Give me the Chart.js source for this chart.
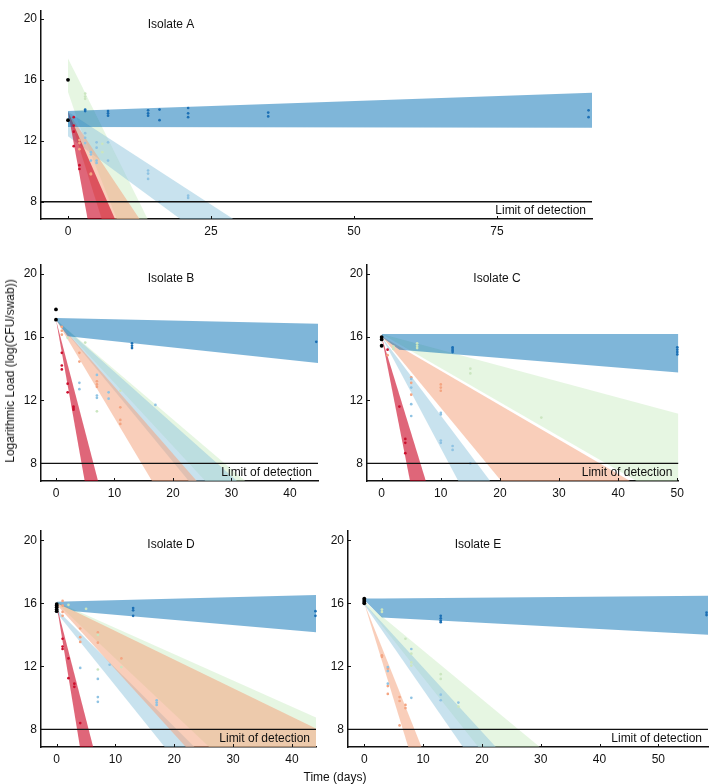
<!DOCTYPE html>
<html>
<head>
<meta charset="utf-8">
<script src="https://cdn.jsdelivr.net/npm/chart.js@4/dist/chart.umd.min.js"></script>
<style>
  html, body { margin: 0; padding: 0; background: #fff; width: 709px; height: 784px; overflow: hidden; }
  .panel { position: absolute; }
  .lbl { position: absolute; font: 12px "Liberation Sans", Arial, Helvetica, sans-serif; color: #111; white-space: nowrap; }
</style>
</head>
<body>
<div id="wrap"></div>
<div class="lbl" style="left:335px; top:777px; transform:translate(-50%,-50%)">Time (days)</div>
<div class="lbl" style="left:10px; top:371px; transform:translate(-50%,-50%) rotate(-90deg)">Logarithmic Load (log(CFU/swab))</div>
<script>
const FONT = '"Liberation Sans", Arial, Helvetica, sans-serif';

// --------- shared axis values ----------
const yTicks = [8, 12, 16, 20];
const lod = 8;
const lodLabel = "Limit of detection";
const panelTitles = ["Isolate A", "Isolate B", "Isolate C", "Isolate D", "Isolate E"];

const A_xTicks = [0, 25, 50, 75];
const B_xTicks = [0, 10, 20, 30, 40];
const C_xTicks = [0, 10, 20, 30, 40, 50];
const D_xTicks = [0, 10, 20, 30, 40];
const E_xTicks = [0, 10, 20, 30, 40, 50];

// --------- observations [day, log load] ----------
const A_black = [[0, 16.0], [0, 13.35]];
const A_dark = [[3, 14.05], [3, 13.95], [7, 13.95], [7, 13.8], [7, 13.65], [14, 14.0], [14, 13.8], [14, 13.65], [16, 14.05], [16, 13.35], [21, 14.15], [21, 13.8], [21, 13.55], [35, 13.85], [35, 13.6], [91, 14.0], [91, 13.55]];
const A_light = [[3, 12.5], [3, 12.2], [3, 11.85], [4, 11.25], [4, 11.1], [4, 10.7], [5, 11.9], [5, 11.55], [5, 10.7], [5, 10.55], [7, 11.9], [7, 10.7], [14, 10.05], [14, 9.85], [14, 9.5], [16, 8.0], [21, 8.4], [21, 8.25]];
const A_green = [[3, 15.1], [3, 14.9], [3, 14.75], [6, 11.8], [6, 11.25]];
const A_orange = [[2, 12.05], [2, 11.85], [2, 11.45], [4, 9.85], [4, 9.8]];
const A_red = [[1, 13.55], [1, 13.0], [1, 12.6], [1, 11.65], [2, 10.4], [2, 10.15]];

const B_black = [[0, 17.75], [0, 17.1]];
const B_dark = [[13, 15.6], [13, 15.45], [13, 15.3], [44.5, 15.7]];
const B_light = [[4, 13.1], [4, 12.7], [7, 13.6], [7, 12.3], [7, 12.15], [9, 12.5], [9, 12.1], [17, 11.7]];
const B_green = [[2, 15.95], [5, 15.65], [7, 11.3], [11, 12.6]];
const B_orange = [[1, 16.65], [1, 16.4], [1, 16.15], [4, 15.0], [4, 14.45], [7, 13.2], [7, 13.0], [7, 12.85], [11, 11.55], [11, 10.75], [11, 10.5]];
const B_red = [[1, 15.0], [1, 14.2], [1, 13.95], [2, 13.05], [2, 12.5], [3, 11.6], [3, 11.5], [3, 11.4]];

const C_black = [[0, 16.0], [0, 15.85], [0, 15.45]];
const C_dark = [[12, 15.35], [12, 15.25], [12, 15.15], [12, 15.05], [50, 15.35], [50, 15.2], [50, 15.05], [50, 14.9]];
const C_light = [[5, 13.35], [5, 12.8], [5, 11.75], [5, 11.0], [10, 11.2], [10, 11.1], [10, 9.45], [10, 9.3], [12, 9.1], [12, 8.85], [15, 8.0]];
const C_green = [[2, 15.4], [2, 15.25], [6, 15.6], [6, 15.45], [6, 15.3], [15, 14.0], [15, 13.7], [27, 10.9]];
const C_orange = [[1, 14.85], [5, 13.45], [5, 13.1], [5, 12.35], [10, 13.0], [10, 12.8], [10, 12.6]];
const C_red = [[1, 15.2], [3, 11.6], [4, 9.55], [4, 9.3], [4, 8.65]];

const D_black = [[0, 15.95], [0, 15.85], [0, 15.75], [0, 15.6], [0, 15.5]];
const D_dark = [[13, 15.7], [13, 15.55], [13, 15.2], [44, 15.5], [44, 15.2]];
const D_light = [[4, 11.9], [7, 11.2], [7, 10.05], [7, 9.75], [9, 12.1], [17, 9.85], [17, 9.7], [17, 9.55]];
const D_green = [[2, 15.9], [5, 15.65], [7, 14.0], [7, 11.8], [11, 11.95]];
const D_orange = [[1, 16.15], [1, 15.85], [1, 15.45], [1, 15.2], [4, 14.4], [4, 13.85], [4, 13.55], [7, 14.15], [7, 13.5], [11, 12.5]];
const D_red = [[1, 13.75], [1, 13.25], [1, 13.1], [2, 12.5], [2, 11.25], [3, 10.9], [3, 10.7], [4, 8.4]];

const E_black = [[0, 16.3], [0, 16.2], [0, 16.1], [0, 16.0]];
const E_dark = [[13, 15.2], [13, 15.05], [13, 14.9], [13, 14.8], [58.2, 15.4], [58.2, 15.25]];
const E_light = [[4, 11.95], [4, 11.7], [4, 10.9], [8, 13.1], [8, 10.0], [13, 10.2], [13, 9.85], [16, 9.7]];
const E_green = [[3, 15.6], [3, 15.45], [7, 13.75], [8, 12.8], [8, 12.25], [8, 12.05], [13, 11.5], [13, 11.2], [16, 9.45]];
const E_orange = [[3, 12.7], [3, 12.6], [4, 11.85], [4, 10.75], [4, 10.25], [6, 10.05], [6, 9.8], [6, 8.25], [7, 9.55], [7, 9.35]];

// --------- prediction bands [day, upper, lower] ----------
const A_bandDark = [[0, 13.95, 12.9], [91.6, 15.15, 12.85]];
const A_bandLight = [[0, 13.9, 12.3], [30, 6.6, 4.0]];
const A_bandGreen = [[0, 17.4, 15.2], [2, 15.9, 13.0], [15, 6.05, 0.8]];
const A_bandOrange = [[0, 13.9, 13.9], [15, 5.47, -4.0]];
const A_bandRed = [[0, 13.9, 13.9], [15, 1.05, -16.9]];

const B_bandDark = [[0, 17.2, 17.1], [2, 17.19, 16.05], [44.8, 16.85, 14.35]];
const B_bandGreen = [[0, 17.1, 17.1], [45, 2.9, -0.9]];
const B_bandLight = [[0, 17.1, 17.1], [45, 2.25, -3.15]];
const B_bandOrange = [[0, 17.1, 17.1], [45, -2.0, -10.9]];
const B_bandRed = [[0, 17.1, 17.1], [10, 2.9, -3.7]];

const C_bandDark = [[0, 16.2, 16.0], [3, 16.2, 15.2], [50.2, 16.2, 13.75]];
const C_bandGreen = [[0, 16.2, 16.2], [50.2, 11.15, 5.35]];
const C_bandOrange = [[0, 16.05, 16.05], [50.2, 5.1, -6.7]];
const C_bandLight = [[0, 16.0, 16.0], [30, 1.1, -5.1]];
const C_bandRed = [[0, 16.0, 16.0], [10, 3.8, -3.0]];

const D_bandDark = [[0, 16.1, 16.0], [3, 16.13, 15.5], [44.1, 16.53, 14.16]];
const D_bandGreen = [[0, 16.1, 16.0], [44.1, 8.75, 0.5]];
const D_bandOrange = [[0, 16.05, 15.9], [44.1, 8.06, -2.2]];
const D_bandLight = [[0, 15.6, 15.4], [44.1, -0.8, -5.05]];
const D_bandRed = [[0, 15.85, 15.85], [10, 1.4, -6.8]];

const E_bandDark = [[0, 16.3, 16.2], [3, 16.3, 15.1], [58.45, 16.47, 14.0]];
const E_bandGreen = [[0, 16.1, 16.0], [40, 3.75, -2.8]];
const E_bandLight = [[0, 16.0, 15.9], [40, -0.3, -5.6]];
const E_bandOrange = [[0, 16.0, 16.0], [15, 1.95, -2.3]];

// --------- colours ----------
const pointColour = {
  black: "#000000",
  dark: "#1c70b5",
  light: "#8fc3e3",
  green: "#cbe6c0",
  orange: "#f4a582",
  red: "#cc0f2e",
};
const bandColour = {
  dark: "rgba(0,110,180,0.5)",
  light: "rgba(146,197,222,0.5)",
  green: "rgba(200,235,190,0.45)",
  orange: "rgba(244,165,130,0.55)",
  red: "rgba(202,0,32,0.6)",
};
// lower number is drawn on top
const bandLayer = { dark: 1, red: 2, orange: 3, light: 4, green: 5 };

// --------- panel layout (plot area in page pixels) ----------
const panels = [
  { title: panelTitles[0], left: 41, top: 2, right: 592, bottom: 219, padTop: 2,
    x: [-4.72, 91.6], y: [6.87, 20.5], xTicks: A_xTicks,
    pts: { dark: A_dark, light: A_light, green: A_green, orange: A_orange, red: A_red, black: A_black },
    bands: { dark: A_bandDark, red: A_bandRed, orange: A_bandOrange, light: A_bandLight, green: A_bandGreen } },
  { title: panelTitles[1], left: 41, top: 264, right: 318, bottom: 481, padTop: 10,
    x: [-2.56, 44.8], y: [6.885, 20.55], xTicks: B_xTicks,
    pts: { dark: B_dark, light: B_light, green: B_green, orange: B_orange, red: B_red, black: B_black },
    bands: { dark: B_bandDark, red: B_bandRed, orange: B_bandOrange, light: B_bandLight, green: B_bandGreen } },
  { title: panelTitles[2], left: 367, top: 264, right: 679, bottom: 481, padTop: 10,
    x: [-2.48, 50.2], y: [6.885, 20.55], xTicks: C_xTicks,
    pts: { dark: C_dark, light: C_light, green: C_green, orange: C_orange, red: C_red, black: C_black },
    bands: { dark: C_bandDark, red: C_bandRed, orange: C_bandOrange, light: C_bandLight, green: C_bandGreen } },
  { title: panelTitles[3], left: 41, top: 530, right: 316, bottom: 747, padTop: 10,
    x: [-2.67, 44.1], y: [6.884, 20.57], xTicks: D_xTicks,
    pts: { dark: D_dark, light: D_light, green: D_green, orange: D_orange, red: D_red, black: D_black },
    bands: { dark: D_bandDark, red: D_bandRed, orange: D_bandOrange, light: D_bandLight, green: D_bandGreen } },
  { title: panelTitles[4], left: 348, top: 530, right: 708, bottom: 747, padTop: 10,
    x: [-2.77, 58.45], y: [6.884, 20.57], xTicks: E_xTicks,
    pts: { dark: E_dark, light: E_light, green: E_green, orange: E_orange, black: E_black },
    bands: { dark: E_bandDark, orange: E_bandOrange, light: E_bandLight, green: E_bandGreen } },
];

const Y_AXIS_W = 40;
const X_AXIS_H = 24;
const PAD_RIGHT = 10;

// --------- build datasets ----------
function buildDatasets(p) {
  const ds = [];
  // limit of detection line
  ds.push({
    data: [{ x: p.x[0], y: lod }, { x: p.x[1], y: lod }],
    borderColor: "#111", borderWidth: 1.4, pointRadius: 0, order: 0,
  });
  for (const [key, rows] of Object.entries(p.pts)) {
    ds.push({
      data: rows.map(([x, y]) => ({ x, y })),
      showLine: false,
      pointRadius: key === "black" ? 1.9 : 1.35,
      pointBackgroundColor: pointColour[key],
      pointBorderWidth: 0,
      clip: false,
      order: 0,
    });
  }
  for (const [key, rows] of Object.entries(p.bands)) {
    ds.push({
      data: rows.map((r) => ({ x: r[0], y: r[2] })),
      borderWidth: 0, borderColor: "transparent", pointRadius: 0, fill: false,
      order: bandLayer[key],
    });
    ds.push({
      data: rows.map((r) => ({ x: r[0], y: r[1] })),
      borderWidth: 0, borderColor: "transparent", pointRadius: 0, fill: "-1",
      backgroundColor: bandColour[key],
      order: bandLayer[key],
    });
  }
  return ds;
}

// titles, limit label and small inward tick marks
function panelText(title) {
  return {
    id: "panelText",
    afterDatasetsDraw(chart) {
      const { ctx, chartArea: a, scales } = chart;
      const x = scales.x, y = scales.y;
      ctx.save();
      ctx.fillStyle = "#111";
      ctx.font = "12px " + FONT;
      ctx.textBaseline = "middle";
      ctx.textAlign = "center";
      ctx.fillText(title, a.left + 130, a.top + 13.5);
      ctx.textAlign = "right";
      ctx.fillText(lodLabel, a.right - 6, (y.getPixelForValue(lod) + a.bottom) / 2 + 0.5);
      ctx.strokeStyle = "#111";
      ctx.lineWidth = 1;
      ctx.beginPath();
      x.ticks.forEach((t) => {
        const px = Math.round(x.getPixelForValue(t.value)) + 0.5;
        ctx.moveTo(px, a.bottom);
        ctx.lineTo(px, a.bottom - 3);
      });
      y.ticks.forEach((t) => {
        const py = Math.round(y.getPixelForValue(t.value)) + 0.5;
        ctx.moveTo(a.left, py);
        ctx.lineTo(a.left + 3, py);
      });
      ctx.stroke();
      ctx.restore();
    },
  };
}

Chart.defaults.font.family = FONT;
Chart.defaults.font.size = 12;
Chart.defaults.color = "#111";

const wrap = document.getElementById("wrap");

panels.forEach((p) => {
  const w = (p.right - p.left) + Y_AXIS_W + PAD_RIGHT;
  const h = (p.bottom - p.top) + p.padTop + X_AXIS_H;
  const box = document.createElement("div");
  box.className = "panel";
  box.style.left = (p.left - Y_AXIS_W) + "px";
  box.style.top = (p.top - p.padTop) + "px";
  const canvas = document.createElement("canvas");
  canvas.width = w;
  canvas.height = h;
  canvas.style.width = w + "px";
  canvas.style.height = h + "px";
  box.appendChild(canvas);
  wrap.appendChild(box);

  new Chart(canvas, {
    type: "line",
    data: { datasets: buildDatasets(p) },
    options: {
      responsive: false,
      animation: false,
      events: [],
      layout: { padding: { top: p.padTop, right: PAD_RIGHT, left: 0, bottom: 0 } },
      plugins: { legend: { display: false }, tooltip: { enabled: false }, colors: { enabled: false } },
      scales: {
        x: {
          type: "linear",
          min: p.x[0],
          max: p.x[1],
          afterBuildTicks: (s) => { s.ticks = p.xTicks.map((v) => ({ value: v })); },
          afterFit: (s) => { s.height = X_AXIS_H; },
          grid: { display: false, drawTicks: false },
          border: { display: true, color: "#111", width: 1.5 },
          ticks: { padding: 5, maxRotation: 0, autoSkip: false, color: "#111" },
        },
        y: {
          type: "linear",
          min: p.y[0],
          max: p.y[1],
          afterBuildTicks: (s) => { s.ticks = yTicks.map((v) => ({ value: v })); },
          afterFit: (s) => { s.width = Y_AXIS_W; },
          grid: { display: false, drawTicks: false },
          border: { display: true, color: "#111", width: 1.5 },
          ticks: { padding: 4, color: "#111" },
        },
      },
    },
    plugins: [panelText(p.title)],
  });
});
</script>
</body>
</html>
